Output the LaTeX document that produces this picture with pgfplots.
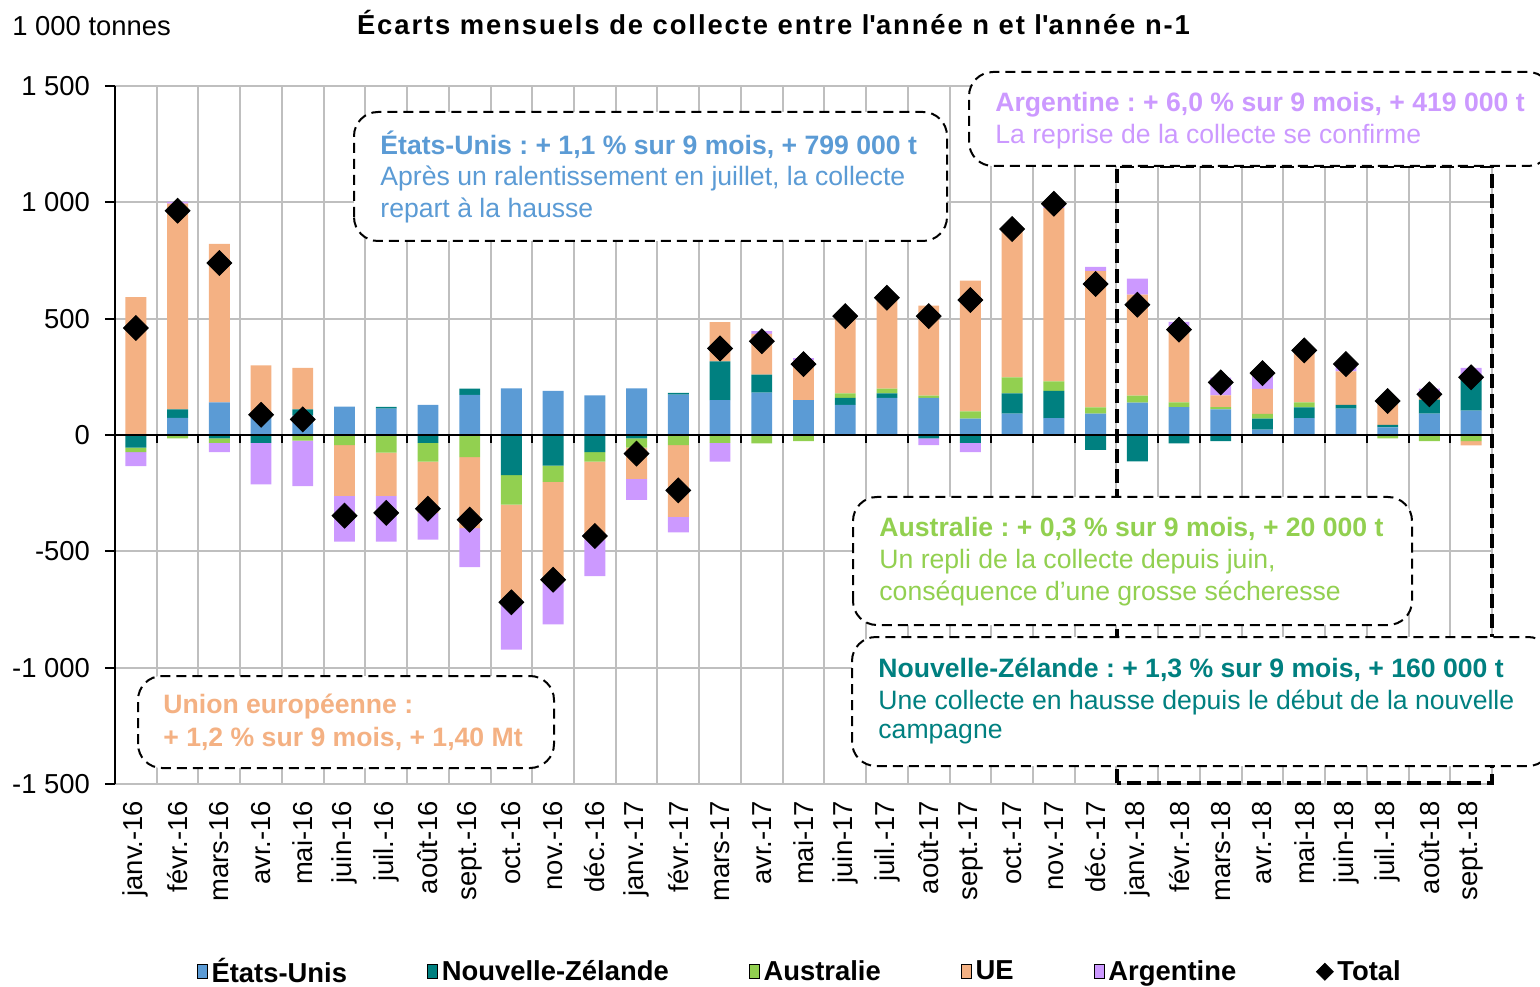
\documentclass[border=0pt]{standalone}
\usepackage{pgfplots}
\pgfplotsset{compat=1.18}
\usepackage{pgfplotstable}
\usepackage{fontspec}
\setmainfont{Liberation Sans}

\definecolor{us}{HTML}{5B9BD5}
\definecolor{nz}{HTML}{008080}
\definecolor{au}{HTML}{92D050}
\definecolor{ue}{HTML}{F4B183}
\definecolor{ar}{HTML}{CC99FF}
\definecolor{gridgray}{HTML}{BFBFBF}

\newcommand{\fs}{\fontsize{13.7pt}{16pt}\selectfont}
\newcommand{\fb}{\fontsize{13.3pt}{16pt}\selectfont}

% ecarts mensuels, 1 000 t
\pgfplotstableread{
x us nz au ue ar tot
0 0 -54 -20 593 -60 460
1 74 36 -14 884 8 964
2 140 -14 -20 681 -40 739
3 87 -34 0 212 -178 87
4 83 27 -24 179 -196 67
5 122 0 -44 -218 -196 -347
6 113 8 -76 -186 -196 -335
7 130 -34 -80 -221 -115 -317
8 172 27 -95 -305 -168 -364
9 200 -173 -126 -423 -200 -719
10 190 -132 -70 -420 -192 -622
11 170 -74 -40 -335 -158 -434
12 200 -14 -40 -135 -90 -80
13 173 8 -44 -308 -66 -238
14 150 166 -34 169 -80 372
15 182 77 -36 176 11 403
16 150 0 -26 170 10 305
17 130 30 19 330 5 511
18 160 19 20 383 8 590
19 160 -14 9 387 -30 511
20 70 -34 32 562 -40 580
21 92 87 69 637 0 885
22 73 117 40 745 17 994
23 92 -64 27 585 19 649
24 139 -113 30 434 69 560
25 120 -36 20 327 19 453
26 110 -26 10 50 77 226
27 23 47 21 107 67 266
28 73 46 21 219 5 364
29 113 17 0 143 30 305
30 33 10 -14 110 5 146
31 92 60 -26 14 33 175
32 105 133 -26 -19 50 248
}\collecte

\pgfplotsset{
  base/.style={scale only axis, width=688.5pt, height=349pt,
    at={(57.5pt,101pt)}, anchor=south west,
    xmin=-0.5, xmax=32.5, ymin=-1500, ymax=1500},
  sq/.style={legend image code/.code={\fill[##1] (0pt,-3.5pt) rectangle (5pt,3.5pt);}},
}
\tikzset{
  dashbox/.style={draw=black, fill=white, line width=1pt, rounded corners=12pt,
    dash pattern=on 5pt off 3pt},
  boxtxt/.style={anchor=west, inner sep=0, font=\fb},
}

\begin{document}
\frenchspacing
\begin{tikzpicture}
\useasboundingbox (0,0) rectangle (770pt,493pt);

% positive parts + axes and grid
\begin{axis}[base,
  axis y line*=left, axis x line*=bottom,
  x axis line style={draw=gridgray, line width=1pt},
  y axis line style={draw=black, line width=1pt},
  ytick={-1500,-1000,...,1500},
  yticklabels={-1 500,-1 000,-500,0,500,1 000,1 500},
  ymajorgrids,
  xtick={0,...,32},
  xticklabels={janv.-16,févr.-16,mars-16,avr.-16,mai-16,juin-16,juil.-16,août-16,sept.-16,oct.-16,nov.-16,déc.-16,
    janv.-17,févr.-17,mars-17,avr.-17,mai-17,juin-17,juil.-17,août-17,sept.-17,oct.-17,nov.-17,déc.-17,
    janv.-18,févr.-18,mars-18,avr.-18,mai-18,juin-18,juil.-18,août-18,sept.-18},
  minor xtick={-0.5,0.5,...,32.5},
  xminorgrids,
  grid style={draw=gridgray, line width=1pt},
  minor grid style={draw=gridgray, line width=1pt},
  xtick style={draw=none},
  ytick style={draw=black, line width=1pt},
  tick align=outside, major tick length=5pt,
  xticklabel style={rotate=90, anchor=east, font=\fs},
  yticklabel style={font=\fs, xshift=-4pt},
  ybar stacked, bar width=0.5,
]
\addplot[fill=us, draw=none] table[x=x, y expr={max(\thisrow{us},0)}] {\collecte};
\addplot[fill=nz, draw=none] table[x=x, y expr={max(\thisrow{nz},0)}] {\collecte};
\addplot[fill=au, draw=none] table[x=x, y expr={max(\thisrow{au},0)}] {\collecte};
\addplot[fill=ue, draw=none] table[x=x, y expr={max(\thisrow{ue},0)}] {\collecte};
\addplot[fill=ar, draw=none] table[x=x, y expr={max(\thisrow{ar},0)}] {\collecte};
\end{axis}

% negative parts
\begin{axis}[base, hide axis, ybar stacked, bar width=0.5]
\addplot[fill=us, draw=none] table[x=x, y expr={min(\thisrow{us},0)}] {\collecte};
\addplot[fill=nz, draw=none] table[x=x, y expr={min(\thisrow{nz},0)}] {\collecte};
\addplot[fill=au, draw=none] table[x=x, y expr={min(\thisrow{au},0)}] {\collecte};
\addplot[fill=ue, draw=none] table[x=x, y expr={min(\thisrow{ue},0)}] {\collecte};
\addplot[fill=ar, draw=none] table[x=x, y expr={min(\thisrow{ar},0)}] {\collecte};
\end{axis}

% total, zero line, legend
\begin{axis}[base, hide axis, clip=false,
  legend style={draw=none, fill=none, font=\fs\bfseries, legend columns=-1,
    /tikz/every even column/.append style={column sep=38pt},
    at={(0.498,-0.269)}, anchor=center},
]
\draw[black, line width=1.2pt] (axis cs:-0.5,0) -- (axis cs:32.5,0);
\pgfplotsinvokeforeach{0,...,32}{\draw[black, line width=1pt] (axis cs:#1+0.5,0) -- ++(0pt,-4pt);}
\addplot[only marks, mark=square*, mark size=4.4pt,
  mark options={rotate=45, fill=black, draw=black}, forget plot]
  table[x=x, y=tot] {\collecte};
\addlegendimage{sq, fill=us}\addlegendentry{États-Unis}
\addlegendimage{sq, fill=nz}\addlegendentry{Nouvelle-Zélande}
\addlegendimage{sq, fill=au}\addlegendentry{Australie}
\addlegendimage{sq, fill=ue}\addlegendentry{UE}
\addlegendimage{sq, fill=ar}\addlegendentry{Argentine}
\addlegendimage{only marks, mark=square*, mark size=3pt, mark options={rotate=45, fill=black}}\addlegendentry{Total}
\end{axis}

% titles
\node[anchor=center, inner sep=0, font=\fs\bfseries\addfontfeature{LetterSpace=7}] at (386.75pt,481.5pt)
  {Écarts mensuels de collecte entre l\textquotesingle année n et l\textquotesingle année n-1};
\node[anchor=west, inner sep=0, font=\fs] at (6pt,480pt) {1 000 tonnes};

% 2018 frame
\draw[black, line width=2pt, dash pattern=on 7pt off 3pt] (558.5pt,101.5pt) rectangle (746pt,410pt);

% comment boxes
\draw[dashbox] (177pt,372.5pt) rectangle (473.5pt,437pt);
\node[boxtxt, text=us, font=\fb\bfseries] at (190pt,420.5pt) {États-Unis : + 1,1 \% sur 9 mois, + 799 000 t};
\node[boxtxt, text=us] at (190pt,404pt) {Après un ralentissement en juillet, la collecte};
\node[boxtxt, text=us] at (190pt,388pt) {repart à la hausse};

\draw[dashbox] (484.5pt,410pt) rectangle (776pt,457pt);
\node[boxtxt, text=ar, font=\fb\bfseries] at (497.5pt,440.5pt) {Argentine : + 6,0 \% sur 9 mois, + 419 000 t};
\node[boxtxt, text=ar] at (497.5pt,424.5pt) {La reprise de la collecte se confirme};

\draw[dashbox] (426.5pt,180.5pt) rectangle (706pt,244.5pt);
\node[boxtxt, text=au, font=\fb\bfseries] at (439.5pt,228.5pt) {Australie : + 0,3 \% sur 9 mois, + 20 000 t};
\node[boxtxt, text=au] at (439.5pt,212pt) {Un repli de la collecte depuis juin,};
\node[boxtxt, text=au] at (439.5pt,196.5pt) {conséquence d’une grosse sécheresse};

\draw[dashbox] (426pt,110pt) rectangle (776pt,174.5pt);
\node[boxtxt, text=nz, font=\fb\bfseries] at (439pt,158pt) {Nouvelle-Zélande : + 1,3 \% sur 9 mois, + 160 000 t};
\node[boxtxt, text=nz] at (439pt,142pt) {Une collecte en hausse depuis le début de la nouvelle};
\node[boxtxt, text=nz] at (439pt,126pt) {campagne};

\draw[dashbox] (69pt,109pt) rectangle (277pt,155pt);
\node[boxtxt, text=ue, font=\fb\bfseries] at (81.5pt,139.5pt) {Union européenne :};
\node[boxtxt, text=ue, font=\fb\bfseries] at (81.5pt,123.5pt) {+ 1,2 \% sur 9 mois, + 1,40 Mt};
\end{tikzpicture}
\end{document}
